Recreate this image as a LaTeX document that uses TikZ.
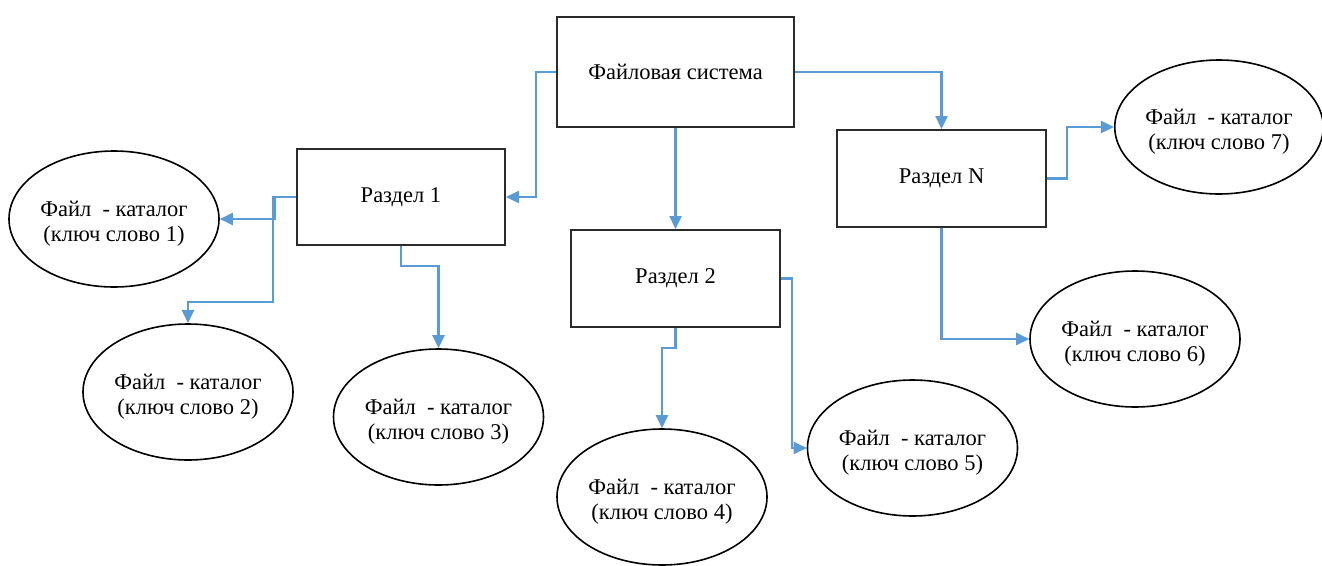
\documentclass[tikz,border=0pt]{standalone}
\usepackage{fontspec}
\setmainfont{Liberation Serif}
\newfontfamily\labelfont{Liberation Serif}
\usetikzlibrary{shapes.geometric,arrows.meta}
\definecolor{linkblue}{HTML}{5B9BD5}
\definecolor{boxedge}{HTML}{2B2B2B}
% two-line label of a catalogue file; the strut sets the text slightly low
\newcommand\cattext[1]{\rule{0pt}{25pt}Файл \ - каталог\\(ключ слово #1)}
\begin{document}
\begin{tikzpicture}[x=1pt,y=-1pt,
  every node/.style={font=\labelfont\fontsize{22.5}{25}\selectfont, align=center},
  partbox/.style={draw=boxedge, line width=2pt, rectangle, inner sep=0pt,
    minimum width=209pt, minimum height=97pt},
  rootbox/.style={partbox, minimum width=237pt, minimum height=110pt},
  filenode/.style={draw=black, line width=1.6pt, ellipse, inner sep=0pt,
    minimum width=210pt, minimum height=136pt},
  conn/.style={draw=linkblue, line width=2.4pt,
    -{Triangle[length=13pt,width=12pt]}}]
  \useasboundingbox (0,0) rectangle (1322,565);

  % file system and its partitions
  \node[rootbox] (FS) at (675.5,72) {Файловая система};
  \node[partbox, minimum width=208pt, minimum height=96pt] (R1) at (401,197) {Раздел 1};
  \node[partbox] (R2) at (675.5,278.5) {Раздел 2};
  \node[partbox] (RN) at (941.5,178.5) {Раздел N};

  % catalogue files
  \node[filenode] (E1) at (114,219) {\cattext{1}};
  \node[filenode] (E2) at (188,392) {\cattext{2}};
  \node[filenode] (E3) at (438.5,417) {\cattext{3}};
  \node[filenode] (E4) at (662,497) {\cattext{4}};
  \node[filenode] (E5) at (912.5,448) {\cattext{5}};
  \node[filenode] (E6) at (1135,339) {\cattext{6}};
  \node[filenode, minimum width=206pt, minimum height=134pt] (E7) at (1219,127) {\cattext{7}};

  % links from the file system
  \draw[conn] (FS.west) -- ++(-20,0) |- (R1.east);
  \draw[conn] (FS.south) -- (R2.north);
  \draw[conn] (FS.east) -| (RN.north);

  % links from partition 1
  \draw[conn] (R1.west) -- ++(-21,0) |- (E1.east);
  \draw[conn] (R1.west) -- ++(-23,0) -- ++(0,105) -| (E2.north);
  \draw[conn] (R1.south) -- ++(0,20) -| (E3.north);

  % links from partition 2
  \draw[conn] (R2.south) -- ++(0,20) -| (E4.north);
  \draw[conn] (R2.east) -- ++(11,0) |- (E5.west);

  % links from partition N
  \draw[conn] (RN.south) |- (E6.west);
  \draw[conn] (RN.east) -- ++(20,0) |- (E7.west);
\end{tikzpicture}
\end{document}
